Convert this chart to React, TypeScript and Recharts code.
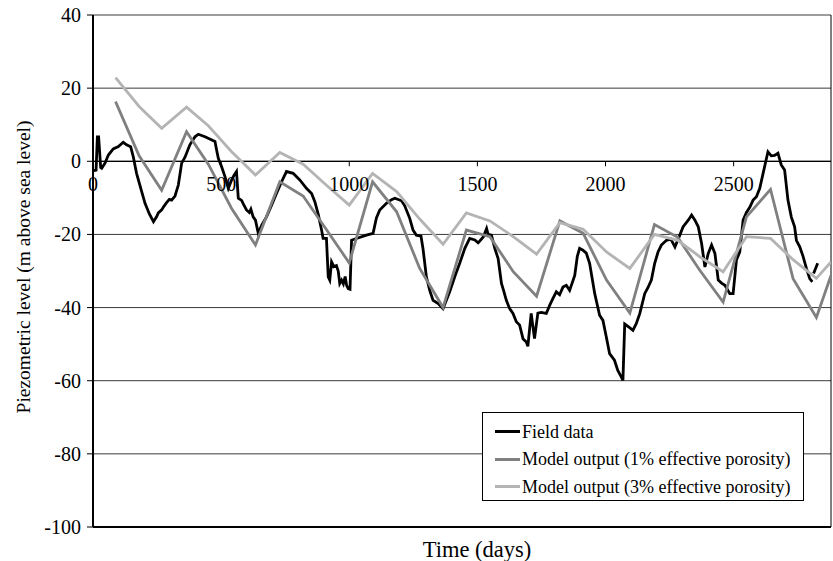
import { CartesianGrid, Legend, Line, LineChart, ReferenceDot, ReferenceLine, XAxis, YAxis } from "recharts";

// field record (days, m above sea level); null = gap in record
const fieldDays = [
  0, 12, 17, 22, 30, 34, 47, 60, 79, 99, 118, 131, 147, 157, 170, 190, 203, 220, 236, 248,
  255, 268, 276, 287, 298, 307, 320, 333, 346, 359, 378, 398, 411, 437, 476, 482, 489, 502, 515, 528,
  541, 550, 560, 567, 580, 587, 599, 610, 616, 625, 634, 645, 658, 677, 697, 716, 736, 755, 781, 807,
  833, 853, 866, 879, 892, 898, 911, 918, 924, 931, 940, 950, 957, 963, 970, 977, 984, 990, 996, 1003,
  1009, 1028, 1067, 1093, 1106, 1119, 1145, 1165, 1178, 1204, 1216, 1236, 1249, 1262, 1280, 1288, 1301, 1314, 1327, 1347,
  1366, 1392, 1412, 1431, 1451, 1470, 1490, 1503, 1523, 1536, 1542, 1555, 1568, 1581, 1594, 1603, 1613, 1626, 1639, 1652,
  1665, 1678, 1691, 1697, 1710, 1723, 1736, 1749, 1769, 1782, 1795, 1808, 1821, 1834, 1847, 1860, 1880, 1890, 1899, 1912,
  1925, 1938, 1958, 1977, 1990, 2003, 2016, 2035, 2048, 2062, 2068, 2075, 2094, 2107, 2120, 2134, 2153, 2166, 2179, 2192,
  2205, 2218, 2238, 2255, 2271, 2290, 2303, 2323, 2336, 2349, 2362, 2375, 2388, 2401, 2414, 2427, 2440, 2453, 2466, 2485,
  2498, 2511, 2524, 2537, 2550, 2563, 2576, 2589, 2602, 2615, 2634, 2647, 2660, 2673, 2686, 2699, 2712, 2725, 2738, 2745,
  2758, 2771, 2784, 2797, 2807, 2810, 2812, 2828,
];
const fieldLevels: (number | null)[] = [
  -2.6, -2.4, 6.7, 6.7, -1.7, -1.9, -0.5, 1.7, 3.4, 4.0, 5.2, 4.5, 4.0, 1.3, -3.3, -8.3, -11.5, -14.4, -16.5, -15.2,
  -14.1, -13.3, -12.4, -11.3, -10.4, -10.6, -9.5, -6.5, -0.5, 1.1, 4.5, 6.7, 7.4, 6.7, 5.4, 3.2, 0.8, -1.5, -4.2, -7.4,
  -5.1, -3.9, -2.8, -10.1, -10.7, -11.7, -13.3, -14.0, -13.1, -15.2, -16.1, -19.7, -17.5, -15.2, -12.0, -8.8, -5.6, -2.8, -3.3, -5.1,
  -7.4, -8.8, -11.1, -14.5, -18.8, -21.1, -21.1, -31.6, -32.5, -27.5, -28.8, -28.5, -30.0, -33.4, -32.5, -33.5, -31.5, -34.0, -34.8, -35.0,
  -21.6, -21.1, -20.2, -19.7, -15.5, -13.3, -11.5, -10.5, -10.1, -10.8, -12.1, -15.6, -18.8, -20.2, -20.5, -24.0, -31.6, -35.3, -38.0, -38.9,
  -40.3, -35.7, -31.5, -27.9, -23.8, -21.1, -21.5, -22.3, -20.7, -18.4, -20.0, -20.2, -23.8, -26.6, -33.4, -35.5, -38.0, -40.3, -41.6, -43.9,
  -44.8, -48.5, -49.4, -50.6, -41.6, -48.5, -41.5, -41.3, -41.6, -39.4, -37.5, -35.7, -36.5, -34.4, -33.9, -35.3, -31.2, -26.0, -23.8, -24.3,
  -25.1, -27.9, -36.2, -42.1, -43.5, -48.0, -52.6, -54.4, -57.2, -59.0, -59.9, -44.5, -45.5, -46.2, -44.4, -41.6, -36.2, -34.5, -32.5, -27.9,
  -24.8, -22.9, -21.6, -21.3, -23.4, -20.2, -17.9, -16.1, -14.7, -16.1, -17.9, -22.5, -28.9, -25.2, -22.9, -25.2, -32.5, -33.3, -33.9, -36.2,
  -36.2, -27.0, -24.8, -16.1, -14.0, -12.6, -10.6, -9.7, -7.4, -3.3, 2.6, 1.5, 1.6, 2.2, -1.0, -2.4, -10.6, -15.2, -17.9, -21.6,
  -23.4, -26.0, -29.3, -32.1, -33.0, null, -30.7, -27.9,
];

// model output, roughly quarterly
const modelDays = [
  88, 180, 268, 365, 450, 541, 634, 729, 820, 910, 1000, 1091, 1185, 1275, 1366, 1457,
  1549, 1640, 1731, 1822, 1913, 2004, 2095, 2191, 2282, 2368, 2459, 2550, 2644, 2732, 2823, 2880,
];
const model1Levels = [
  16.3, 1.5, -7.9, 8.1, -0.8, -12.9, -22.9, -5.6, -9.5, -18.6, -27.8, -5.6, -13.8, -29.3, -40.0, -18.8,
  -20.6, -30.2, -36.9, -16.3, -19.7, -32.5, -41.5, -17.3, -20.8, -29.8, -38.5, -15.2, -7.7, -32.1, -42.7, -31.2,
];
const model3Levels = [
  22.9, 15.0, 9.0, 14.8, 9.7, 2.6, -3.75, 2.4, -0.8, -6.5, -12.0, -3.3, -8.3, -15.8, -22.7, -14.1,
  -16.3, -20.6, -25.4, -16.8, -18.6, -24.8, -29.3, -20.0, -21.6, -26.1, -30.2, -20.6, -21.1, -26.9, -32.0, -27.5,
];

const xTicks = [0, 500, 1000, 1500, 2000, 2500];
const yTicks = [-100, -80, -60, -40, -20, 0, 20, 40];

const fieldData = fieldDays.map((x, i) => ({ x, y: fieldLevels[i] }));
const model1Data = modelDays.map((x, i) => ({ x, y: model1Levels[i] }));
const model3Data = modelDays.map((x, i) => ({ x, y: model3Levels[i] }));

const SERIF = '"Liberation Serif", "Times New Roman", serif';

// x labels sit on the zero line, like the source chart
function ZeroTick({ cx, cy, text }: any) {
  return (
    <g>
      <line x1={cx} y1={cy} x2={cx} y2={cy + 5} stroke="#000" strokeWidth={1} />
      <text x={cx} y={cy + 30} textAnchor="middle" fill="#000" fontFamily={SERIF} fontSize={20}>
        {text}
      </text>
    </g>
  );
}

function YTick({ x, y, payload }: any) {
  return (
    <text x={x} y={y} dy={7} textAnchor="end" fill="#000" fontFamily={SERIF} fontSize={20}>
      {payload.value}
    </text>
  );
}

function YTitle({ viewBox }: any) {
  const cx = viewBox.x + 23;
  const cy = viewBox.y + viewBox.height / 2 - 4;
  return (
    <text x={cx} y={cy} transform={`rotate(-90 ${cx} ${cy})`} textAnchor="middle" dominantBaseline="central"
      fill="#000" fontFamily={SERIF} fontSize={19.5}>
      Piezometric level (m above sea level)
    </text>
  );
}

function XTitle({ viewBox }: any) {
  return (
    <text x={viewBox.x + viewBox.width / 2 + 15} y={viewBox.y + 30} textAnchor="middle" fill="#000"
      fontFamily={SERIF} fontSize={22.5}>
      Time (days)
    </text>
  );
}

function LegendBox({ payload }: any) {
  return (
    <div style={{ boxSizing: "border-box", width: 322, height: 89, border: "1px solid #000", background: "#fff", paddingTop: 5 }}>
      {(payload || []).map((p: any) => (
        <div key={p.value} style={{ display: "flex", alignItems: "center", height: 27.5, paddingLeft: 12 }}>
          <span style={{ display: "inline-block", width: 25, height: 3, background: p.color }} />
          <span style={{ marginLeft: 2, fontSize: 18, fontFamily: SERIF, color: "#000", lineHeight: "18px" }}>{p.value}</span>
        </div>
      ))}
    </div>
  );
}

export default function App() {
  return (
    <div style={{ position: "absolute", left: 0, top: 0, width: 833, height: 561, background: "#fff", fontFamily: SERIF }}>
      <LineChart width={833} height={561} margin={{ top: 15, right: 2, bottom: 0, left: 0 }}>
        <CartesianGrid vertical={false} stroke="#3a3a3a" strokeWidth={1} />
        <XAxis dataKey="x" type="number" domain={[0, 2880]} ticks={xTicks} allowDataOverflow
          tick={false} tickLine={false} height={34} axisLine={{ stroke: "#000", strokeWidth: 2 }}
          label={<XTitle />} />
        <YAxis type="number" domain={[-100, 40]} ticks={yTicks} width={93} tickSize={6} tickMargin={6}
          axisLine={{ stroke: "#000", strokeWidth: 2 }} tickLine={{ stroke: "#000" }}
          tick={<YTick />} label={<YTitle />} />
        <ReferenceLine y={0} stroke="#000" strokeWidth={1.3} />
        <ReferenceLine x={2880} stroke="#000" strokeWidth={1} />
        {xTicks.map((t) => (
          <ReferenceDot key={t} x={t} y={0} r={0} ifOverflow="visible"
            shape={(p: any) => <ZeroTick cx={p.cx} cy={p.cy} text={String(t)} />} />
        ))}
        <Line data={fieldData} dataKey="y" name="Field data" type="linear" stroke="#000" strokeWidth={2.8}
          dot={false} isAnimationActive={false} />
        <Line data={model1Data} dataKey="y" name="Model output (1% effective porosity)" type="linear" stroke="#808080"
          strokeWidth={2.8} dot={false} isAnimationActive={false} />
        <Line data={model3Data} dataKey="y" name="Model output (3% effective porosity)" type="linear" stroke="#b4b4b4"
          strokeWidth={2.8} dot={false} isAnimationActive={false} />
        <Legend content={<LegendBox />} layout="horizontal" verticalAlign="middle" align="center"
          wrapperStyle={{ left: 482, top: 412, width: 322, height: 89 }} />
      </LineChart>
    </div>
  );
}
